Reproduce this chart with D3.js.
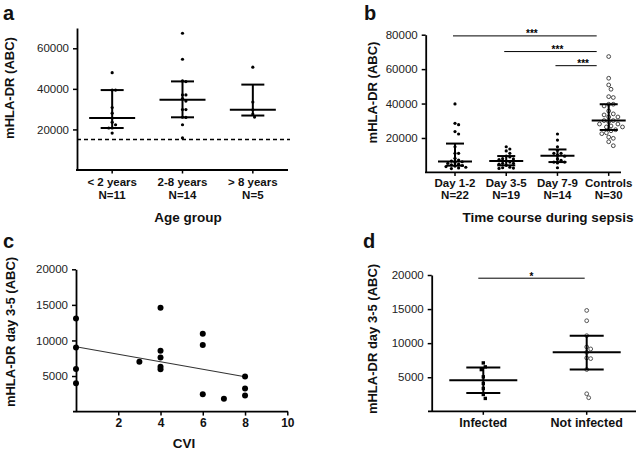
<!DOCTYPE html>
<html><head><meta charset="utf-8">
<script src="https://cdn.jsdelivr.net/npm/d3@7"></script>
<style>
body{margin:0;background:#fff}
svg{display:block}
text{font-family:"Liberation Sans",Arial,Helvetica,sans-serif;fill:#111}
</style>
</head><body>
<svg id="chart" width="638" height="455"></svg>
<script>
// ---------- data ----------
// Panel a
const ageGroups = ["< 2 years", "2-8 years", "> 8 years"];
const ageN = ["N=11", "N=14", "N=5"];
const ageLt2 = [48000, 39400, 39400, 30800, 28000, 25600, 23600, 22300, 20700, 20700, 18200];
const age2to8 = [67400, 54600, 43900, 43600, 37000, 37000, 35200, 34000, 29800, 29800, 26000, 25900, 22300, 15800];
const ageGt8 = [50700, 33500, 29700, 27600, 26100];
const ageTicks = [20000, 40000, 60000];
const ageThreshold = 15000;

// Panel b
const sepsisGroups = ["Day 1-2", "Day 3-5", "Day 7-9", "Controls"];
const sepsisN = ["N=22", "N=19", "N=14", "N=30"];
const day12 = [2200, 2600, 3000, 3400, 3700, 4000, 4400, 4800, 5300, 5800, 6200, 6600, 7200, 8200, 11100, 11100, 14900, 22300, 23700, 27700, 28500, 39800];
const day35 = [2300, 2500, 2700, 3000, 4100, 4800, 5300, 5300, 6000, 6600, 7500, 7800, 8000, 9000, 9500, 11100, 12500, 13600, 14900];
const day79 = [2700, 5500, 6000, 6000, 7000, 7800, 9400, 10000, 11100, 11100, 12800, 14900, 18800, 22300];
const controls = [15500, 17800, 19800, 20500, 22500, 23000, 24200, 24800, 26400, 26400, 27000, 28100, 28100, 29500, 30100, 30100, 32200, 32200, 33400, 34000, 35700, 38600, 39600, 39600, 43500, 44000, 48300, 50800, 54700, 67300];
const sepsisTicks = [20000, 40000, 60000, 80000];
const sigFrom = [0, 1, 2];          // compared against Controls
const sigLevels = [79300, 70200, 62000];
const sigLabels = ["***", "***", "***"];

// Panel c
const cviX = [0, 0, 0, 0, 3, 4, 4, 4, 4, 4, 6, 6, 6, 7, 8, 8, 8];
const cviY = [13100, 9000, 6000, 4000, 7000, 14600, 8550, 7600, 6300, 5950, 10950, 9350, 2450, 1800, 4950, 3250, 2250];
const cviXTicks = [2, 4, 6, 8, 10];
const cviYTicks = [5000, 10000, 15000, 20000];

// Panel d
const infGroups = ["Infected", "Not infected"];
const infected = [7100, 6520, 6120, 5060, 4080, 3350, 2470, 1890];
const notInfected = [14800, 13290, 11100, 9440, 9150, 8650, 7830, 7730, 6130, 2570, 1990];
const infTicks = [5000, 10000, 15000, 20000];
const infSigLevel = 19530;
const infSigLabel = "*";

// ---------- helpers ----------
const svg = d3.select("#chart");
svg.append("rect").attr("width", 638).attr("height", 455).attr("fill", "#fff");

function quant(vals, p) {
  const s = vals.slice().sort((a, b) => a - b), n = s.length;
  let pos = p * (n + 1);
  if (pos < 1) pos = 1; if (pos > n) pos = n;
  const lo = Math.floor(pos), f = pos - lo;
  if (lo >= n) return s[n - 1];
  return s[lo - 1] + f * (s[lo] - s[lo - 1]);
}

function swarm(vals, y, dist) {
  const idx = vals.map((v, i) => i).sort((a, b) => vals[b] - vals[a]);
  const placed = [], off = new Array(vals.length).fill(0);
  for (const i of idx) {
    const yi = y(vals[i]);
    for (let k = 0; k < 60; k++) {
      const o = (k === 0 ? 0 : (k % 2 ? 1 : -1) * Math.ceil(k / 2) * dist * 0.5);
      if (placed.every(p => Math.hypot(p[0] - o, p[1] - yi) >= dist)) {
        off[i] = o; placed.push([o, yi]); break;
      }
    }
  }
  return off;
}

function yAxis(g, y, ticks, x) {
  const ax = g.append("g").attr("transform", `translate(${x},0)`)
    .call(d3.axisLeft(y).tickValues(ticks).tickSize(4).tickSizeOuter(0).tickPadding(4).tickFormat(d3.format("d")));
  ax.select(".domain").attr("stroke", "#000").attr("stroke-width", 1.8);
  ax.selectAll(".tick line").attr("stroke", "#000").attr("stroke-width", 1.5);
  ax.selectAll(".tick text").attr("font-size", 11.5).style("fill", "#222");
  return ax;
}

function xLine(g, x1, x2, yv) {
  g.append("line").attr("x1", x1).attr("x2", x2).attr("y1", yv).attr("y2", yv)
    .attr("stroke", "#000").attr("stroke-width", 1.8);
}
function xTicks(g, positions, yv) {
  g.selectAll(null).data(positions).enter().append("line")
    .attr("x1", d => d).attr("x2", d => d).attr("y1", yv).attr("y2", yv + 3.5)
    .attr("stroke", "#000").attr("stroke-width", 1.5);
}

function errBars(g, xc, vals, y, half, cap) {
  const med = quant(vals, 0.5), q1 = quant(vals, 0.25), q3 = quant(vals, 0.75);
  const ln = (x1, x2, y1, y2) => g.append("line").attr("x1", x1).attr("x2", x2).attr("y1", y1).attr("y2", y2)
    .attr("stroke", "#000").attr("stroke-width", 2);
  ln(xc, xc, y(q1), y(q3));
  ln(xc - half, xc + half, y(med), y(med));
  ln(xc - cap, xc + cap, y(q1), y(q1));
  ln(xc - cap, xc + cap, y(q3), y(q3));
}

function label(txt, x, yv, size, weight, anchor) {
  return svg.append("text").attr("x", x).attr("y", yv).attr("font-size", size)
    .attr("font-weight", weight || "normal").attr("text-anchor", anchor || "middle").text(txt);
}
function yTitle(txt, x, yv) {
  svg.append("text").attr("transform", `translate(${x},${yv}) rotate(-90)`)
    .attr("font-size", 13).attr("font-weight", "bold").attr("text-anchor", "middle").text(txt);
}
function star(txt, x, yv) {
  label(txt, x, yv, 10, "bold").style("fill", "#000");
}

// ---------- panel a ----------
{
  const g = svg.append("g");
  const y = d3.scaleLinear().domain([0, 70000]).range([170, 28]);
  const x = d3.scaleBand().domain(ageGroups).range([77, 288]);
  const xc = d => x(d) + x.bandwidth() / 2;
  g.append("line").attr("x1", 77).attr("x2", 290).attr("y1", y(ageThreshold)).attr("y2", y(ageThreshold))
    .attr("stroke", "#000").attr("stroke-width", 1.5).attr("stroke-dasharray", "4,3");
  yAxis(g, y, ageTicks, 77);
  xLine(g, 76, 288, 170);
  xTicks(g, ageGroups.map(xc), 170);
  [ageLt2, age2to8, ageGt8].forEach((vals, i) => {
    const cx = xc(ageGroups[i]);
    const off = swarm(vals, y, 3.4);
    g.selectAll(null).data(vals).enter().append("circle")
      .attr("cx", (d, j) => cx + off[j]).attr("cy", d => y(d)).attr("r", 1.6).attr("fill", "#000");
    errBars(g, cx, vals, y, 23, 11.5);
    label(ageGroups[i], cx, 186, 11.5, "bold");
    label(ageN[i], cx, 198.5, 11.5, "bold");
  });
  label("Age group", 188, 222, 13.5, "bold");
  yTitle("mHLA-DR (ABC)", 14, 88);
  label("a", 3, 20, 20, "bold", "start");
}

// ---------- panel b ----------
{
  const g = svg.append("g");
  const y = d3.scaleLinear().domain([0, 80000]).range([172.4, 34.7]);
  const x = d3.scalePoint().domain(sepsisGroups).range([455, 608.7]);
  yAxis(g, y, sepsisTicks, 425.7);
  xLine(g, 425, 621, 172.4);
  xTicks(g, sepsisGroups.map(d => x(d)), 172.4);
  [day12, day35, day79, controls].forEach((vals, i) => {
    const cx = x(sepsisGroups[i]);
    const isCtrl = i === 3;
    const off = swarm(vals, y, isCtrl ? 4.6 : 3.6);
    const c = g.selectAll(null).data(vals).enter().append("circle")
      .attr("cx", (d, j) => cx + off[j]).attr("cy", d => y(d));
    if (isCtrl) c.attr("r", 1.9).attr("fill", "#fff").attr("stroke", "#333").attr("stroke-width", 0.9);
    else c.attr("r", 1.6).attr("fill", "#000");
    errBars(g, cx, vals, y, 17, 9);
    label(sepsisGroups[i], cx, 186.7, 11.5, "bold");
    label(sepsisN[i], cx, 199, 11.5, "bold");
  });
  sigFrom.forEach((gi, k) => {
    const x1 = x(sepsisGroups[gi]) - 2, x2 = x(sepsisGroups[3]) - 12;
    g.append("line").attr("x1", x1).attr("x2", x2).attr("y1", y(sigLevels[k])).attr("y2", y(sigLevels[k]))
      .attr("stroke", "#000").attr("stroke-width", 1);
    star(sigLabels[k], (x1 + x2) / 2 + 7, y(sigLevels[k]) + 1.5);
  });
  label("Time course during sepsis", 548, 221.7, 13.5, "bold");
  yTitle("mHLA-DR (ABC)", 376.5, 92.5);
  label("b", 364, 20, 20, "bold", "start");
}

// ---------- panel c ----------
{
  const g = svg.append("g");
  const y = d3.scaleLinear().domain([0, 20000]).range([411.6, 269.3]);
  const x = d3.scaleLinear().domain([0, 10]).range([76, 287.3]);
  yAxis(g, y, cviYTicks, 76);
  xLine(g, 73, 288, 411.6);
  const xa = g.append("g").attr("transform", "translate(0,411.6)")
    .call(d3.axisBottom(x).tickValues(cviXTicks).tickSize(4).tickSizeOuter(0).tickPadding(3).tickFormat(d3.format("d")));
  xa.select(".domain").remove();
  xa.selectAll(".tick line").attr("stroke", "#000").attr("stroke-width", 1.5);
  xa.selectAll(".tick text").attr("font-size", 12).attr("font-weight", "bold").style("fill", "#111");
  // linear regression
  const mx = d3.mean(cviX), my = d3.mean(cviY);
  const sxy = d3.sum(cviX, (d, i) => (d - mx) * (cviY[i] - my));
  const sxx = d3.sum(cviX, d => (d - mx) * (d - mx));
  const b = sxy / sxx, a0 = my - b * mx;
  const [xmin, xmax] = d3.extent(cviX);
  g.append("line").attr("x1", x(xmin)).attr("x2", x(xmax)).attr("y1", y(a0 + b * xmin)).attr("y2", y(a0 + b * xmax))
    .attr("stroke", "#333").attr("stroke-width", 1.1);
  g.selectAll(null).data(cviX).enter().append("circle")
    .attr("cx", d => x(d)).attr("cy", (d, i) => y(cviY[i])).attr("r", 3).attr("fill", "#000");
  label("CVI", 184, 447.5, 13.5, "bold");
  yTitle("mHLA-DR day 3-5 (ABC)", 14.5, 332);
  label("c", 3, 247.7, 20, "bold", "start");
}

// ---------- panel d ----------
{
  const g = svg.append("g");
  const y = d3.scaleLinear().domain([0, 20000]).range([411.3, 275]);
  const x = d3.scalePoint().domain(infGroups).range([483.3, 586.7]);
  yAxis(g, y, infTicks, 431.7);
  xLine(g, 428, 636, 411.3);
  xTicks(g, infGroups.map(d => x(d)), 411.3);
  [infected, notInfected].forEach((vals, i) => {
    const cx = x(infGroups[i]);
    const off = swarm(vals, y, 4);
    if (i === 0) {
      g.selectAll(null).data(vals).enter().append("rect")
        .attr("x", (d, j) => cx + off[j] - 1.7).attr("y", d => y(d) - 1.7)
        .attr("width", 3.4).attr("height", 3.4).attr("fill", "#000");
    } else {
      g.selectAll(null).data(vals).enter().append("circle")
        .attr("cx", (d, j) => cx + off[j]).attr("cy", d => y(d)).attr("r", 1.9)
        .attr("fill", "#fff").attr("stroke", "#555").attr("stroke-width", 1);
    }
    errBars(g, cx, vals, y, 34, 17);
    label(infGroups[i], cx, 427.3, 12.5, "bold");
  });
  const x1 = x(infGroups[0]) - 5, x2 = x(infGroups[1]) - 2;
  g.append("line").attr("x1", x1).attr("x2", x2).attr("y1", y(infSigLevel)).attr("y2", y(infSigLevel))
    .attr("stroke", "#000").attr("stroke-width", 1);
  star(infSigLabel, (x1 + x2) / 2, y(infSigLevel) + 1.5);
  yTitle("mHLA-DR day 3-5 (ABC)", 376.5, 339);
  label("d", 363, 247.7, 20, "bold", "start");
}
</script>
</body></html>
